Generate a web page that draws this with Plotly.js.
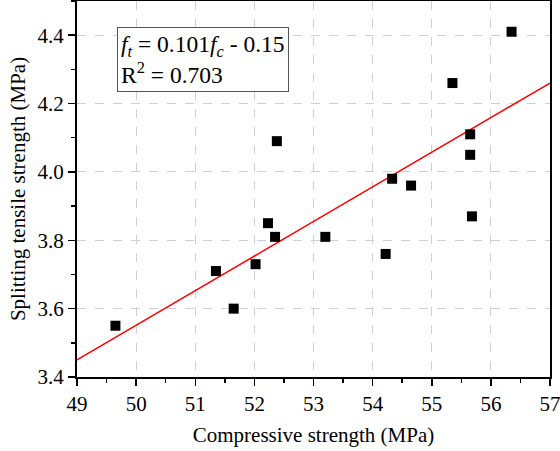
<!DOCTYPE html>
<html>
<head>
<meta charset="utf-8">
<script src="https://cdn.plot.ly/plotly-3.0.1.min.js"></script>
<style>html,body{margin:0;padding:0;background:#fff;}#chart{width:560px;height:451px;}</style>
</head>
<body>
<div id="chart"></div>
<script>
// Measured specimens: compressive vs splitting tensile strength (MPa)
const compressive = [49.65, 51.35, 51.65, 52.02, 52.23, 52.35, 52.38, 53.2, 54.22, 54.33, 54.65, 55.35, 55.65, 55.65, 55.68, 56.35];
const tensile     = [3.55, 3.71, 3.60, 3.73, 3.85, 3.81, 4.09, 3.81, 3.76, 3.98, 3.96, 4.26, 4.11, 4.05, 3.87, 4.41];

// Linear fit line, drawn across the x range
const fitX = [49, 57];
const fitY = [3.45, 4.26];

const xTicks = [49, 50, 51, 52, 53, 54, 55, 56, 57];
const yTicks = [3.4, 3.6, 3.8, 4.0, 4.2, 4.4];

const serif = 'Liberation Serif, Times New Roman, serif';

const traces = [
  {
    x: fitX, y: fitY, mode: 'lines', type: 'scatter',
    line: {color: '#ff0000', width: 1.5}, hoverinfo: 'skip'
  },
  {
    x: compressive, y: tensile, mode: 'markers', type: 'scatter',
    marker: {symbol: 'square', size: 10, color: '#000000'}
  }
];

const axisCommon = {
  showline: true, linecolor: '#000', linewidth: 2, mirror: true,
  ticks: 'outside', ticklen: 7, tickwidth: 1.5, tickcolor: '#000',
  showgrid: true, gridcolor: '#d0d0d0', griddash: 'dash', gridwidth: 1,
  zeroline: false, ticklabeloverflow: 'allow',
  tickfont: {family: serif, size: 21, color: '#000'}
};

const layout = {
  width: 560, height: 451,
  margin: {l: 77, r: 10, t: 1, b: 74},
  paper_bgcolor: '#fff', plot_bgcolor: '#fff',
  showlegend: false,
  xaxis: Object.assign({}, axisCommon, {
    range: [49, 57], tickvals: xTicks, ticktext: xTicks.map(String),
    minor: {ticks: 'outside', ticklen: 4, tickwidth: 1.5, tickcolor: '#000', dtick: 0.5, showgrid: false},
    title: {text: 'Compressive strength (MPa)', font: {family: serif, size: 21, color: '#000'}, standoff: 12}
  }),
  yaxis: Object.assign({}, axisCommon, {
    range: [3.4, 4.5], tickvals: yTicks, ticktext: yTicks.map(v => v.toFixed(1)),
    minor: {ticks: 'outside', ticklen: 4, tickwidth: 1.5, tickcolor: '#000', dtick: 0.1, showgrid: false},
    title: {text: 'Splitting tensile strength (MPa)', font: {family: serif, size: 21, color: '#000'}, standoff: 6}
  }),
  annotations: [{
    xref: 'paper', yref: 'paper', x: 0.085, y: 0.932, xanchor: 'left', yanchor: 'top',
    align: 'left', showarrow: false,
    text: '<i>f</i><sub><i>t</i></sub> = 0.101<i>f</i><sub><i>c</i></sub> - 0.15<br>R<sup>2</sup> = 0.703',
    font: {family: serif, size: 23.5, color: '#000'},
    bordercolor: '#555', borderwidth: 1, borderpad: 3, bgcolor: '#fff'
  }]
};

Plotly.newPlot('chart', traces, layout, {displayModeBar: false, staticPlot: true});
</script>
</body>
</html>
